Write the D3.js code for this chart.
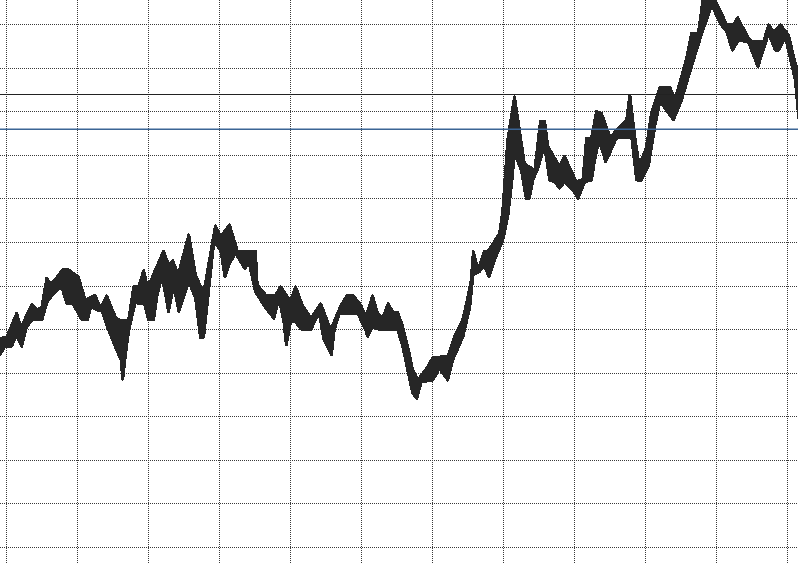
<!DOCTYPE html>
<html>
<head>
<meta charset="utf-8">
<script src="https://cdn.jsdelivr.net/npm/d3@7"></script>
<style>
  body { margin: 0; background: #fff; }
  svg { display: block; }
</style>
</head>
<body>
<div id="chart"></div>
<script>
// upper edge of the band (day, value)
var hiDays = [-1.7, 0.2, 3.0, 4.2, 7.3, 8.7, 10.1, 11.5, 12.6, 13.8, 16.0, 17.6, 20.4, 22.3, 25.1, 26.6, 28.4, 30.8, 32.2, 34.5,
    36.0, 37.4, 38.8, 39.7, 40.7, 42.1, 44.4, 45.8, 47.0, 48.5, 51.5, 53.4, 55.7, 59.0, 60.5, 63.0, 65.2, 70.3, 70.8, 73.2,
    76.0, 77.4, 80.2, 81.6, 83.5, 85.9, 88.7, 91.5, 94.4, 96.2, 97.7, 100.0, 101.4, 103.3, 104.7, 106.1, 107.7, 109.0, 110.4, 111.8,
    113.2, 114.6, 116.0, 118.4, 120.3, 124.5, 126.4, 128.7, 130.0, 131.1, 131.7, 133.0, 134.8, 135.8, 139.1, 140.0, 141.4, 143.3, 146.1, 149.0,
    150.6, 151.8, 152.7, 156.0, 157.4, 160.7, 162.6, 163.6, 165.0, 166.4, 167.8, 170.3, 172.0, 174.9, 175.8, 177.2, 178.2, 179.1, 180.5, 181.9,
    184.3, 187.1, 188.5, 191.8, 193.2, 195.1, 196.5, 199.4, 201.2, 203.1, 205.0, 206.2, 209.2, 210.2, 213.5, 214.9, 216.3, 218.2, 220.5, 222.4, 223.7];
var hiValues = [47.9, 48.1, 53.6, 50.3, 55.7, 54.4, 55.1, 61.7, 60.3, 61.3, 63.7, 63.6, 62.0, 56.7, 57.8, 54.8, 57.6, 52.8, 51.9, 51.9,
    59.7, 59.9, 63.4, 60.1, 60.9, 63.6, 67.9, 64.7, 65.7, 62.4, 71.6, 62.4, 58.2, 73.7, 71.2, 73.9, 67.9, 67.9, 60.1, 57.8,
    57.8, 59.7, 56.3, 59.7, 55.5, 52.5, 55.8, 49.8, 55.5, 57.8, 57.8, 55.5, 52.8, 57.6, 53.7, 52.5, 55.8, 53.9, 53.9, 50.5,
    46.0, 40.6, 38.3, 40.8, 43.5, 43.7, 48.3, 52.1, 56.7, 61.3, 67.8, 63.6, 67.8, 67.8, 72.0, 77.3, 93.4, 103.3, 87.9, 86.5,
    97.6, 97.6, 91.9, 87.3, 89.6, 83.8, 84.4, 93.8, 93.8, 99.9, 99.5, 93.8, 95.7, 98.0, 103.7, 94.1, 88.8, 88.8, 91.8, 99.5,
    105.5, 105.5, 102.6, 112.1, 117.9, 117.9, 126.2, 126.2, 123.2, 119.8, 119.8, 121.5, 116.7, 115.9, 115.9, 119.8, 118.2, 119.8, 117.5, 111.0, 107.9];

// lower edge of the band (day, value)
var loDays = [-1.7, -0.3, 1.6, 3.0, 4.4, 5.8, 7.3, 10.1, 11.5, 13.4, 15.7, 17.1, 18.8, 21.4, 23.0, 23.9, 25.6, 27.0, 28.9, 30.8,
    32.4, 32.9, 33.6, 34.6, 36.4, 39.0, 40.2, 41.6, 42.6, 44.0, 45.8, 47.3, 48.7, 51.5, 53.4, 54.8, 55.7, 58.6, 60.5,
    61.7, 63.0, 64.7, 67.3, 68.4, 70.3, 73.2, 75.5, 76.9, 78.3, 79.0, 80.2, 81.6, 83.1, 85.9, 88.2, 89.6, 91.7, 92.5, 93.9,
    99.1, 101.4, 101.9, 103.3, 105.7, 110.4, 111.8, 113.2, 114.6, 115.8, 117.0, 120.3, 122.1, 124.5, 125.9, 128.8, 130.7, 131.6, 133.4, 134.8,
    136.1, 137.7, 140.0, 141.4, 142.4, 143.3, 145.2, 146.6, 147.5, 148.5, 149.9, 151.8, 153.2, 154.6, 156.0, 157.4, 159.8, 161.2, 163.1, 165.0,
    165.9, 167.1, 169.0, 172.0, 176.3, 177.7, 179.1, 181.1, 182.9, 184.3, 188.1, 190.4, 192.7, 196.1, 198.9, 201.2, 203.1, 204.7, 206.4, 209.2,
    211.9, 214.9, 216.8, 217.7, 219.6, 222.4, 223.4, 223.7];
var loValues = [44.1, 46.0, 46.1, 48.6, 46.0, 50.5, 52.1, 52.1, 56.1, 58.2, 59.7, 55.9, 55.9, 52.1, 52.1, 55.3, 54.4, 54.2, 49.8, 46.0,
    42.9, 38.5, 43.7, 49.8, 56.0, 55.9, 52.1, 52.1, 57.8, 62.4, 54.0, 60.1, 54.0, 60.9, 57.1, 48.0, 48.2, 70.1, 68.1,
    62.0, 65.1, 67.4, 63.9, 65.5, 58.6, 54.8, 52.5, 57.1, 51.7, 46.4, 51.6, 51.7, 50.0, 49.8, 54.0, 47.5, 44.1, 49.8, 53.6,
    53.6, 49.8, 48.3, 50.5, 49.8, 49.8, 46.0, 40.6, 35.3, 34.1, 37.9, 38.3, 41.0, 38.3, 42.9, 48.3, 55.1, 62.4, 63.2, 64.7,
    62.0, 65.9, 70.4, 75.8, 82.7, 90.3, 86.5, 80.0, 80.0, 84.2, 86.9, 92.2, 84.2, 83.8, 82.3, 83.8, 81.9, 80.0, 83.8, 84.2,
    88.8, 93.4, 88.4, 93.8, 94.1, 84.2, 84.2, 87.7, 96.8, 102.2, 98.0, 102.6, 109.0, 117.9, 124.4, 120.2, 118.2, 114.0, 116.3, 115.9,
    110.2, 117.9, 114.0, 114.0, 117.1, 107.2, 98.4, 100.3];

// grid ticks and reference levels
var dayTicks = d3.range(0, 221, 20);
var valueTicks = d3.range(0, 121, 10);
var blackLevel = 103.8;
var blueLevel = 95.9;

var width = 798, height = 564;

var x = d3.scaleLinear().domain([0, 220]).range([6, 786.7]);
var y = d3.scaleLinear().domain([0, 120]).range([547, 24]);

var svg = d3.select("#chart").append("svg")
    .attr("width", width)
    .attr("height", height);

// vertical grid
var gx = svg.append("g")
    .call(d3.axisTop(x).tickValues(dayTicks).tickSize(-height).tickFormat(""));
gx.select(".domain").remove();

// horizontal grid
var gy = svg.append("g")
    .call(d3.axisLeft(y).tickValues(valueTicks).tickSize(-width).tickFormat(""));
gy.select(".domain").remove();

svg.selectAll(".tick line")
    .attr("stroke", "#3a3a3a")
    .attr("stroke-dasharray", "1,1")
    .attr("shape-rendering", "crispEdges");

// band: upper edge forward, lower edge back
var hi = hiDays.map(function(d, i) { return [d, hiValues[i]]; });
var lo = loDays.map(function(d, i) { return [d, loValues[i]]; }).reverse();

var line = d3.line()
    .x(function(d) { return x(d[0]); })
    .y(function(d) { return y(d[1]); });

svg.append("path")
    .attr("d", line(hi.concat(lo)) + "Z")
    .attr("fill", "#262626")
    .attr("stroke", "#262626")
    .attr("stroke-width", 3)
    .attr("stroke-linejoin", "round")
    .attr("shape-rendering", "crispEdges");

// reference lines
svg.append("line")
    .attr("x1", 0).attr("x2", width)
    .attr("y1", y(blackLevel)).attr("y2", y(blackLevel))
    .attr("stroke", "#222")
    .attr("stroke-width", 1)
    .attr("shape-rendering", "crispEdges");

svg.append("line")
    .attr("x1", 0).attr("x2", width)
    .attr("y1", y(blueLevel) + 0.2).attr("y2", y(blueLevel) + 0.2)
    .attr("stroke", "#3b6595")
    .attr("stroke-width", 1.4);
</script>
</body>
</html>
